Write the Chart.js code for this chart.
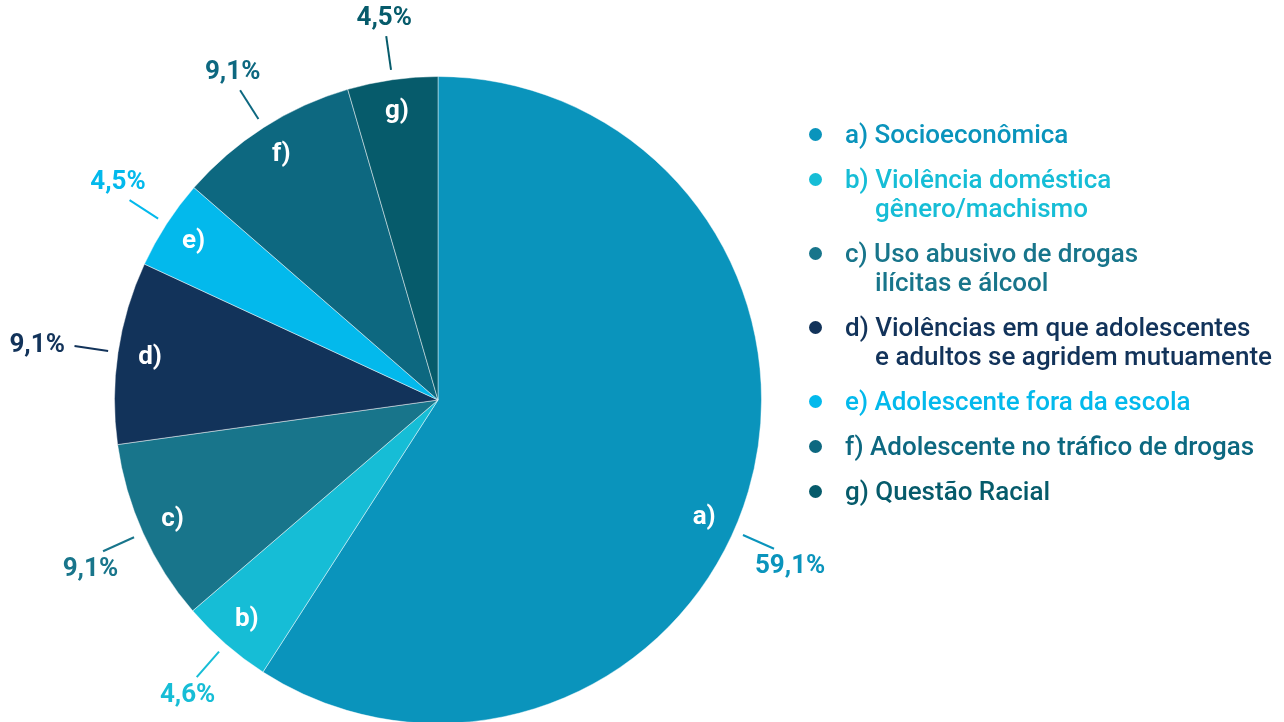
<!DOCTYPE html>
<html lang="pt-BR">
<head>
<meta charset="utf-8">
<script src="https://cdn.jsdelivr.net/npm/chart.js@4"></script>
<style>
  html, body { margin: 0; padding: 0; background: #fff; overflow: hidden; }
  #wrap { position: absolute; left: 0; top: 0; width: 1284px; height: 730px; }
  #legend { position: absolute; left: 806px; top: 120px; font-family: Roboto, sans-serif; font-weight: 500; font-size: 26px; }
  .item { position: relative; padding-left: 39px; line-height: 29px; margin-bottom: 16px; white-space: nowrap; }
  .item .dot { position: absolute; left: 3px; top: 8px; width: 13px; height: 13px; border-radius: 50%; }
  .item .l2 { padding-left: 30px; }
</style>
</head>
<body>
<div id="wrap"><canvas id="pieChart"></canvas></div>
<div id="legend"></div>
<script>
// dados do gráfico
const letras = ['a)', 'b)', 'c)', 'd)', 'e)', 'f)', 'g)'];
const categorias = [
  ['a) Socioeconômica'],
  ['b) Violência doméstica', 'gênero/machismo'],
  ['c) Uso abusivo de drogas', 'ilícitas e álcool'],
  ['d) Violências em que adolescentes', 'e adultos se agridem mutuamente'],
  ['e) Adolescente fora da escola'],
  ['f) Adolescente no tráfico de drogas'],
  ['g) Questão Racial']
];
const valores = [59.1, 4.6, 9.1, 9.1, 4.5, 9.1, 4.5];
const rotulos = ['59,1%', '4,6%', '9,1%', '9,1%', '4,5%', '9,1%', '4,5%'];
const cores = ['#0a94bc', '#16bdd6', '#18758b', '#12335a', '#03b9ec', '#0d6880', '#065b6b'];

// legenda em HTML
const legend = document.getElementById('legend');
categorias.forEach(function(linhas, i) {
  const div = document.createElement('div');
  div.className = 'item';
  div.style.color = cores[i];
  let html = '<span class="dot" style="background:' + cores[i] + '"></span>' + linhas[0];
  if (linhas[1]) html += '<div class="l2">' + linhas[1] + '</div>';
  div.innerHTML = html;
  legend.appendChild(div);
});

// rótulos dentro das fatias e percentuais fora, com linha guia
const rotulosPlugin = {
  id: 'rotulos',
  afterDatasetsDraw(chart, args, opts) {
    const ctx = chart.ctx;
    const meta = chart.getDatasetMeta(0);
    ctx.save();
    ctx.font = 'bold 26px Roboto';
    ctx.textBaseline = 'middle';
    meta.data.forEach(function(arc, i) {
      const ajuste = (opts.ajusteAngulo[i] || 0) * Math.PI / 180;
      const mid = (arc.startAngle + arc.endAngle) / 2 + ajuste;
      const dx = Math.cos(mid), dy = Math.sin(mid);
      const r = arc.outerRadius;

      // letra da fatia
      ctx.fillStyle = '#fff';
      ctx.textAlign = 'center';
      ctx.fillText(letras[i], arc.x + dx * r * 0.9, arc.y + dy * r * 0.9);

      // linha guia
      const ex = arc.x + dx * (r + 44), ey = arc.y + dy * (r + 44);
      ctx.strokeStyle = cores[i];
      ctx.lineWidth = 2;
      ctx.beginPath();
      ctx.moveTo(arc.x + dx * (r + 10), arc.y + dy * (r + 10));
      ctx.lineTo(ex, ey);
      ctx.stroke();

      // percentual
      const w = ctx.measureText(rotulos[i]).width;
      let px, py;
      if (Math.abs(dy) > 0.3) {
        px = ex + dx * w / 4;
        py = ey + Math.sign(dy) * 18;
      } else {
        px = ex + dx * (w / 2 + 10);
        py = ey;
      }
      ctx.fillStyle = cores[i];
      ctx.fillText(rotulos[i], px, py);
    });
    ctx.restore();
  }
};

new Chart(document.getElementById('pieChart'), {
  type: 'pie',
  data: {
    labels: categorias.map(function(c) { return c.join(' '); }),
    datasets: [{
      data: valores,
      backgroundColor: cores,
      borderColor: 'rgba(255, 255, 255, 0.45)',
      borderWidth: 1
    }]
  },
  options: {
    responsive: true,
    maintainAspectRatio: false,
    animation: false,
    layout: { padding: { left: 114, right: 522, top: 76, bottom: 6 } },
    plugins: {
      legend: { display: false },
      tooltip: { enabled: false },
      rotulos: { ajusteAngulo: [7.5, 0, 0, 0, 0, 0, 0] }
    }
  },
  plugins: [rotulosPlugin]
});
</script>
</body>
</html>
